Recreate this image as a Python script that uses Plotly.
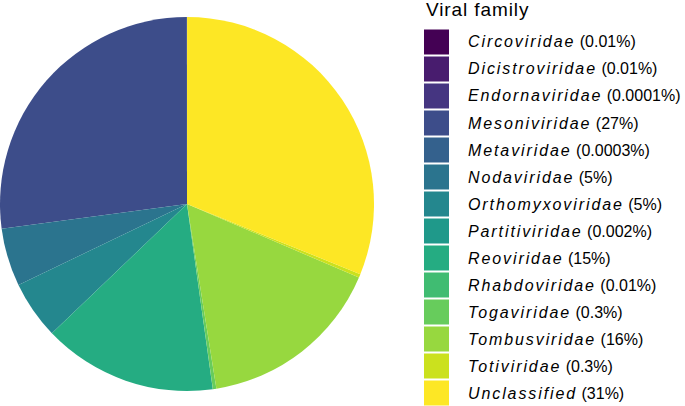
import plotly.graph_objects as go

families = ["Circoviridae", "Dicistroviridae", "Endornaviridae", "Mesoniviridae",
            "Metaviridae", "Nodaviridae", "Orthomyxoviridae", "Partitiviridae",
            "Reoviridae", "Rhabdoviridae", "Togaviridae", "Tombusviridae",
            "Totiviridae", "Unclassified"]
percent = [0.01, 0.01, 0.0001, 27, 0.0003, 5, 5, 0.002, 15, 0.01, 0.3, 16, 0.3, 31]
pct_labels = ["0.01%", "0.01%", "0.0001%", "27%", "0.0003%", "5%", "5%", "0.002%",
              "15%", "0.01%", "0.3%", "16%", "0.3%", "31%"]
colors = ["#440154", "#481C6E", "#453581", "#3D4D8A", "#34618D", "#2B748E", "#24878E",
          "#1F998A", "#25AC82", "#40BC72", "#67CC5C", "#97D83F", "#CBE11E", "#FDE725"]

W, H = 685, 406

fig = go.Figure(go.Pie(
    labels=families, values=percent, sort=False,
    direction="counterclockwise", rotation=0,
    marker=dict(colors=colors, line=dict(width=0)),
    textinfo="none", hoverinfo="label+percent",
    domain=dict(x=[0, 374 / W], y=[1 - 391 / H, 1 - 17 / H]),
    showlegend=False,
))

shapes = []
annotations = []
font_family = "Liberation Sans, Arial, sans-serif"
annotations.append(dict(
    x=424 / W, y=1 - 10 / H, xref="paper", yref="paper",
    xanchor="left", yanchor="middle", showarrow=False,
    text="Viral family", font=dict(family=font_family, size=19, color="#000000"),
))
pitch = 27.0
for i, (fam, pl, col) in enumerate(zip(families, pct_labels, colors)):
    top = 29.5 + pitch * i
    shapes.append(dict(
        type="rect", xref="paper", yref="paper",
        x0=424 / W, x1=449 / W, y0=1 - (top + 25) / H, y1=1 - top / H,
        fillcolor=col, line=dict(width=0),
    ))
    annotations.append(dict(
        x=466 / W, y=1 - (top + 12.5) / H, xref="paper", yref="paper",
        xanchor="left", yanchor="middle", showarrow=False,
        text=f"<i>{fam}</i> ({pl})",
        font=dict(family=font_family, size=16, color="#000000"),
    ))

fig.update_layout(
    width=W, height=H,
    margin=dict(l=0, r=0, t=0, b=0),
    paper_bgcolor="white", plot_bgcolor="white",
    shapes=shapes, annotations=annotations,
)

post = """
document.body.style.margin = '0px';
document.querySelectorAll('.annotation').forEach(function(a){
  var idx = parseInt(a.getAttribute('data-index'));
  a.querySelectorAll('text.annotation-text').forEach(function(t){
    var bb = t.getBBox();
    var left = bb.x;
    t.setAttribute('text-anchor', 'start');
    t.setAttribute('x', left);
    t.querySelectorAll('tspan[x]').forEach(function(s){ s.setAttribute('x', left); });
    if (idx === 0) {
      t.style.letterSpacing = '0.9px';
    } else {
      t.querySelectorAll('tspan').forEach(function(s){
        if ((s.getAttribute('style') || '').indexOf('italic') >= 0) {
          s.style.letterSpacing = '1.9px';
        }
      });
    }
  });
});
"""

fig.write_html("out.html", post_script=post, config={"displayModeBar": False})
